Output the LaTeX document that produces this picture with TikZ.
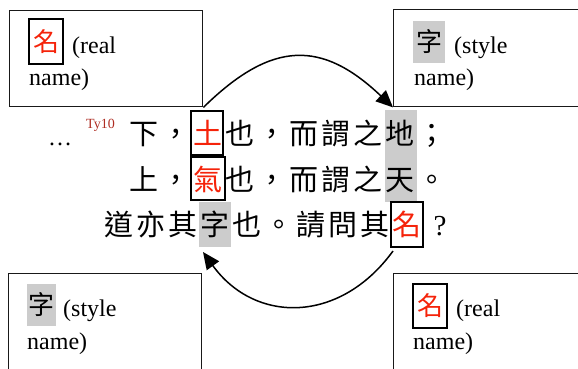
\documentclass[tikz,border=0pt]{standalone}
\usepackage{fontspec}
\setmainfont{Liberation Serif}
\newfontfamily\cjk{Noto Sans CJK TC}
\usetikzlibrary{arrows.meta}
\definecolor{hlgray}{RGB}{204,204,204}
\definecolor{mingred}{RGB}{245,35,10}
\definecolor{tyred}{RGB}{175,45,35}
\definecolor{edge}{RGB}{25,25,25}
\newcommand{\rd}[1]{\textcolor{mingred}{#1}}
\tikzset{
  outerbox/.style={draw=edge, line width=1.4pt, fill=white, anchor=north west, inner sep=0pt},
  cj/.style={anchor=base, inner sep=0pt, font=\cjk\fontsize{29}{29}\selectfont},
  lab/.style={anchor=base west, inner sep=0pt, font=\fontsize{24}{24}\selectfont},
  labcj/.style={anchor=center, inner sep=0pt, font=\cjk\fontsize{26}{26}\selectfont},
  charbox/.style={draw=black, line width=2pt},
  hl/.style={fill=hlgray, draw=none},
  conn/.style={line width=1.5pt, -{Triangle[length=17pt,width=15pt]}}
}
\begin{document}
\begin{tikzpicture}[x=1pt,y=-1pt]
\clip (0,0) rectangle (578,369);
\fill[white] (0,0) rectangle (578,369);
% outer label boxes
\node[outerbox, minimum width=193pt, minimum height=96pt] (tl) at (9,10) {};
\node[outerbox, minimum width=200pt, minimum height=97pt] (tr) at (393,9) {};
\node[outerbox, minimum width=193pt, minimum height=110pt] (bl) at (8,273) {};
\node[outerbox, minimum width=200pt, minimum height=110pt] (br) at (393,273) {};
% top-left label
\draw[charbox] (29,19) rectangle (63,64);
\node[labcj, text=mingred] (tlc) at (46,41.5) {名};
\node[lab] (tlt1) at (72,53) {(real};
\node[lab] (tlt2) at (29,85) {name)};
% top-right label
\fill[hl] (413,21) rectangle (445,63);
\node[labcj] (trc) at (429,42) {字};
\node[lab] (trt1) at (454,53) {(style};
\node[lab] (trt2) at (414,85) {name)};
% bottom-left label
\fill[hl] (27,284) rectangle (56,326);
\node[labcj] (blc) at (41.5,305) {字};
\node[lab] (blt1) at (63,316) {(style};
\node[lab] (blt2) at (27,349) {name)};
% bottom-right label
\draw[charbox] (413,284) rectangle (447,328);
\node[labcj, text=mingred] (brc) at (430,306) {名};
\node[lab] (brt1) at (456,316) {(real};
\node[lab] (brt2) at (413,349) {name)};
% highlights in main text
\fill[hl] (385,110) rectangle (417,156);
\fill[hl] (385,156) rectangle (417,202);
\fill[hl] (199,202) rectangle (231,247);
% main text
\node[anchor=base west, inner sep=0pt, font=\fontsize{24}{24}\selectfont] (dots) at (48,145) {…};
\node[anchor=base west, inner sep=0pt, text=tyred, font=\fontsize{14}{14}\selectfont] (ty) at (86,128) {Ty10};
\foreach \c [count=\i] in {下,，,\rd{土},也,，,而,謂,之,地,；}
  \node[cj] (a\i) at ({112+32*\i},144) {\c};
\foreach \c [count=\i] in {上,，,\rd{氣},也,，,而,謂,之,天,。}
  \node[cj] (b\i) at ({112+32*\i},190) {\c};
\foreach \c [count=\i] in {道,亦,其,字,也,。,請,問,其,\rd{名}}
  \node[cj] (c\i) at ({87+32*\i},235) {\c};
\node[anchor=base, inner sep=0pt, font=\fontsize{29}{29}\selectfont] (q) at (440,235) {?};
% boxes around real-name characters
\draw[charbox] (191,111) rectangle (223,155);
\draw[charbox] (191,157) rectangle (225,200);
\draw[charbox] (391,202) rectangle (423,247);
% connectors
\coordinate (b1) at (393,251);
\coordinate (b2) at (203,252);
\draw[conn] (tl.south east) .. controls (272,40) and (322,40) .. (tr.south west);
\draw[conn] (b1) .. controls (340,324) and (255,324) .. (b2);
\end{tikzpicture}
\end{document}
